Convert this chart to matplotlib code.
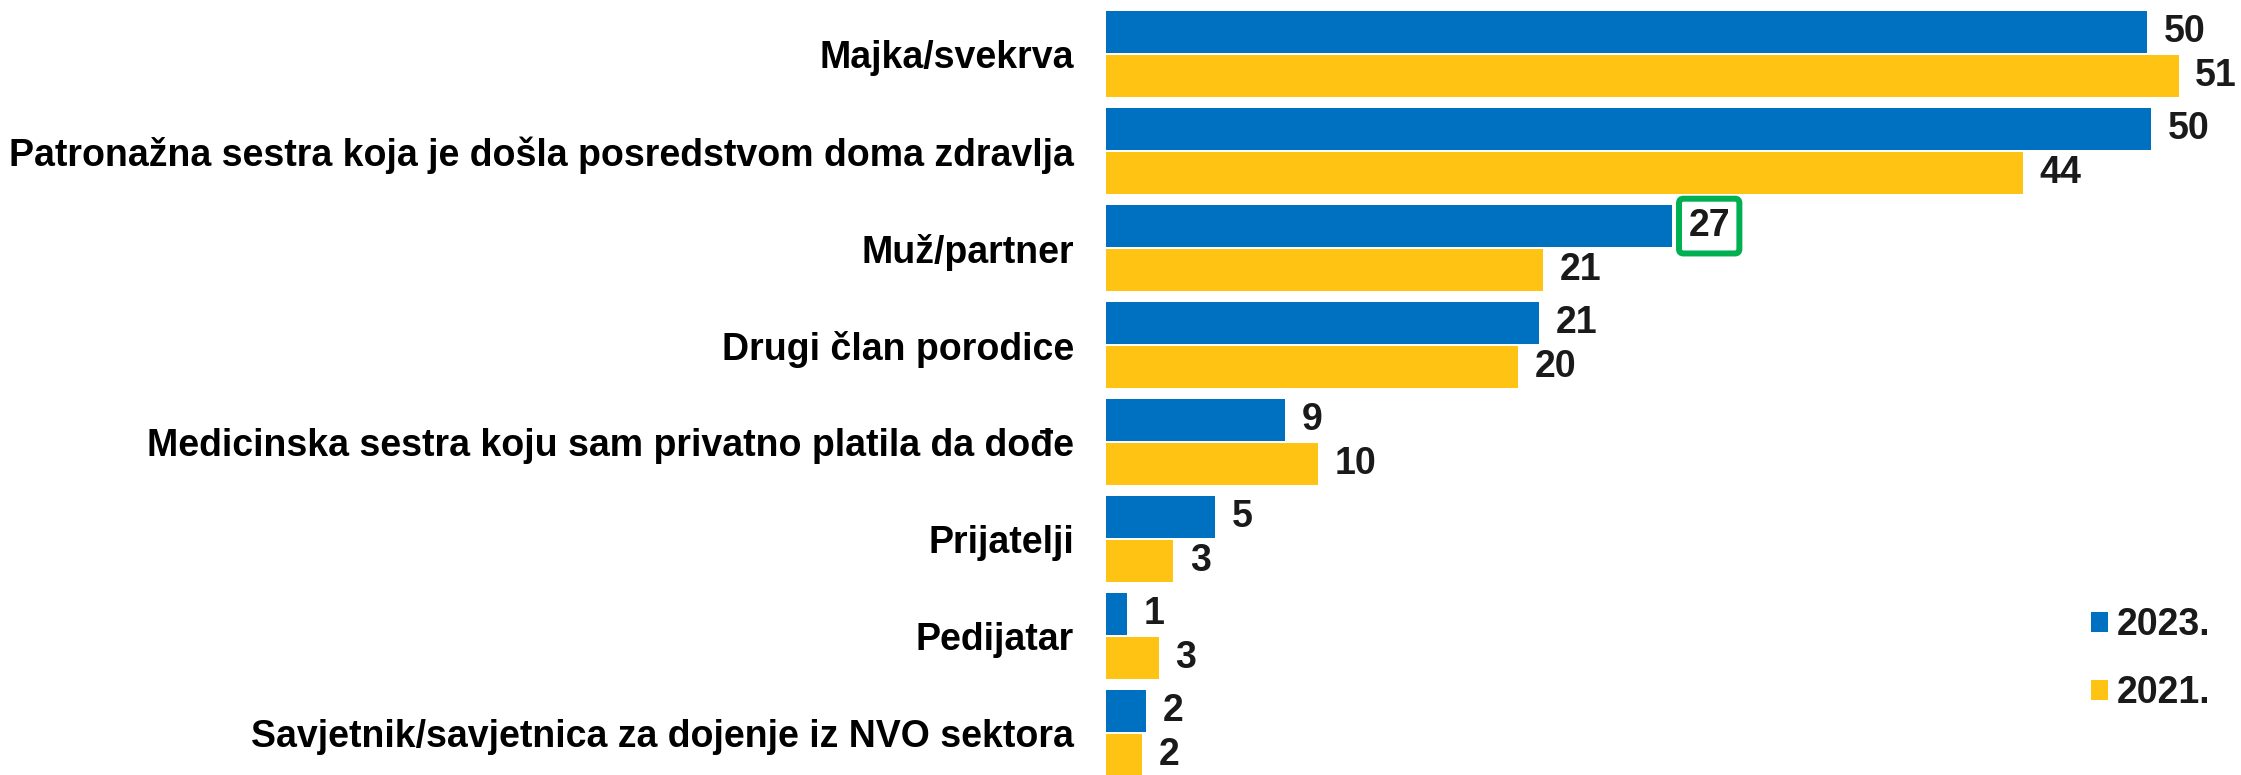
"""
Bar chart: who helped after birth, 2023 vs 2021 (%).
"""

import matplotlib.pyplot as plt
import numpy as np
from matplotlib.patches import Patch

categories = [
    "Majka/svekrva",
    "Patronažna sestra koja je došla posredstvom doma zdravlja",
    "Muž/partner",
    "Drugi član porodice",
    "Medicinska sestra koju sam privatno platila da dođe",
    "Prijatelji",
    "Pedijatar",
    "Savjetnik/savjetnica za dojenje iz NVO sektora",
]
values_2023 = [49.5, 49.7, 26.9, 20.6, 8.5, 5.2, 1.0, 1.9]
values_2021 = [51.0, 43.6, 20.8, 19.6, 10.1, 3.2, 2.5, 1.7]
series_names = ["2023.", "2021."]
highlight = (0, 2)  # series index, category index -> boxed label

BLUE = "#0070C0"
YELLOW = "#FFC313"
GREEN = "#00B050"
FONT = "Liberation Sans"
FS = 27


def round_label(v):
    return f"{int(v + 0.5)}"


if __name__ == "__main__":
    plt.rcParams["font.family"] = [FONT, "DejaVu Sans"]
    W, H = 2241, 775
    fig = plt.figure(figsize=(W / 100, H / 100), dpi=100)
    ax = fig.add_axes([1106 / W, 0, 1 - 1106 / W, 1])

    y = np.arange(len(categories))
    off, h = 0.227, 0.433
    series = [values_2023, values_2021]
    colors = [BLUE, YELLOW]
    for s, (vals, col) in enumerate(zip(series, colors)):
        ypos = y - off if s == 0 else y + off
        bars = ax.barh(ypos, vals, height=h, color=col, edgecolor="none")
        for i, (bar, v) in enumerate(zip(bars, vals)):
            kw = {}
            if (s, i) == highlight:
                kw["bbox"] = dict(
                    boxstyle="round,pad=0.25,rounding_size=0.12",
                    facecolor="white",
                    edgecolor=GREEN,
                    linewidth=4.3,
                )
            ax.annotate(
                round_label(v),
                xy=(bar.get_width(), bar.get_y() + bar.get_height() / 2),
                xytext=(12, 0),
                textcoords="offset points",
                ha="left",
                va="center",
                fontsize=FS,
                fontweight="bold",
                color="#1a1a1a",
                clip_on=False,
                **kw,
            )

    ax.set_xlim(0, 53.97)
    ax.set_ylim(7.43, -0.557)
    ax.set_yticks(y)
    ax.set_yticklabels(categories, fontsize=FS, fontweight="bold")
    ax.tick_params(axis="y", length=0, pad=23)
    ax.set_xticks([])
    for sp in ax.spines.values():
        sp.set_visible(False)

    handles = [Patch(facecolor=c, edgecolor="none") for c in colors]
    leg = ax.legend(
        handles,
        series_names,
        loc="center left",
        bbox_to_anchor=(2091 / W, 116 / H),
        bbox_transform=fig.transFigure,
        frameon=False,
        borderpad=0,
        borderaxespad=0,
        handlelength=0.45,
        handleheight=0.45,
        handletextpad=0.24,
        labelspacing=0.85,
        prop={"family": FONT, "weight": "bold", "size": FS},
    )
    for t in leg.get_texts():
        t.set_color("#1a1a1a")

    fig.savefig("out.png", dpi=100)
